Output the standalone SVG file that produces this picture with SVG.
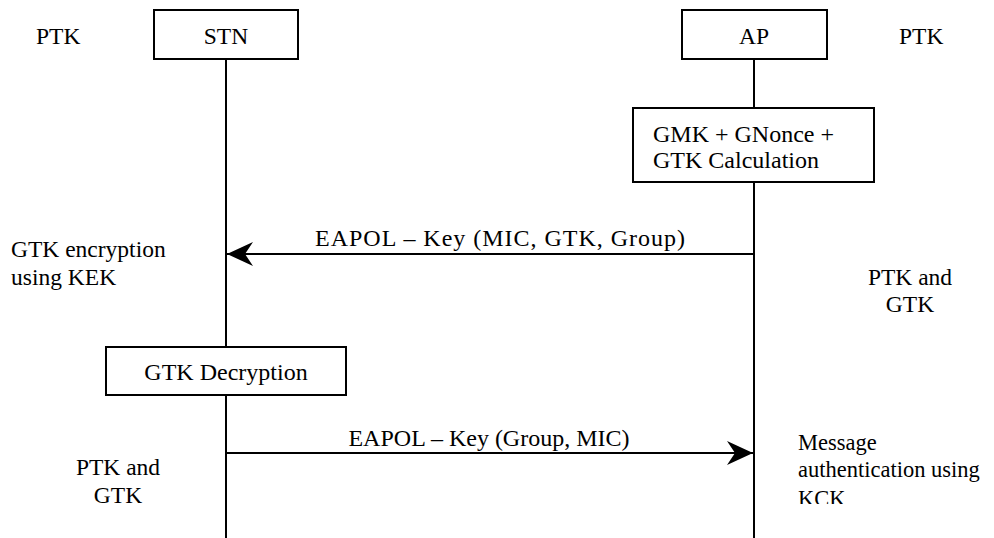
<svg xmlns="http://www.w3.org/2000/svg" width="994" height="538" viewBox="0 0 994 538">
<style>
.box{fill:#fff;stroke:#000;stroke-width:2}
.line{stroke:#000;stroke-width:2;fill:none}
.mid{text-anchor:middle}
</style>
<defs>
<marker id="ah" markerUnits="userSpaceOnUse" markerWidth="28" markerHeight="28" viewBox="0 0 28 28" refX="26" refY="14" orient="auto">
<path d="M26,14 L0,2 L8,14 L0,26 Z" fill="#000"/>
</marker>
<clipPath id="kclip"><rect x="780" y="420" width="214" height="84"/></clipPath>
</defs>
<g font-family="'Liberation Serif', 'Times New Roman', Tinos, 'DejaVu Serif', serif" font-size="23.5" fill="#000">
<g id="connectors">
<line class="line" x1="226" y1="59" x2="226" y2="347"/>
<line class="line" x1="226" y1="395" x2="226" y2="538"/>
<line class="line" x1="754" y1="59" x2="754" y2="108"/>
<line class="line" x1="754" y1="182" x2="754" y2="538"/>
<line class="line" x1="754" y1="254" x2="227" y2="254" marker-end="url(#ah)"/>
<line class="line" x1="226" y1="453" x2="753" y2="453" marker-end="url(#ah)"/>
<text class="mid" x="500" y="246" font-size="24" textLength="370" lengthAdjust="spacing">EAPOL – Key (MIC, GTK, Group)</text>
<text class="mid" x="489" y="446" font-size="24">EAPOL – Key (Group, MIC)</text>
</g>
<g id="stn"><rect class="box" x="154" y="10" width="144" height="49"/><text class="mid" x="226" y="44">STN</text></g>
<g id="ap"><rect class="box" x="682" y="10" width="145" height="49"/><text class="mid" x="754" y="44">AP</text></g>
<g id="gtk-calc" font-size="24"><rect class="box" x="633" y="108" width="241" height="74"/><text x="653" y="142">GMK + GNonce +</text><text x="653" y="168">GTK Calculation</text></g>
<g id="gtk-decrypt" font-size="24"><rect class="box" x="106" y="347" width="240" height="48"/><text class="mid" x="226" y="380">GTK Decryption</text></g>
<g id="ptk-left"><text x="36" y="44">PTK</text></g>
<g id="ptk-right"><text x="899" y="44">PTK</text></g>
<g id="gtk-enc"><text x="11" y="257">GTK encryption</text><text x="11" y="285">using KEK</text></g>
<g id="ptk-gtk-right"><text class="mid" x="910" y="285">PTK and</text><text class="mid" x="910" y="312">GTK</text></g>
<g id="ptk-gtk-left"><text class="mid" x="118" y="475">PTK and</text><text class="mid" x="118" y="503">GTK</text></g>
<g id="msg-auth" clip-path="url(#kclip)" font-size="22.5"><text x="798" y="450">Message</text><text x="798" y="477">authentication using</text><text x="798" y="506">KCK</text></g>
</g>
</svg>
